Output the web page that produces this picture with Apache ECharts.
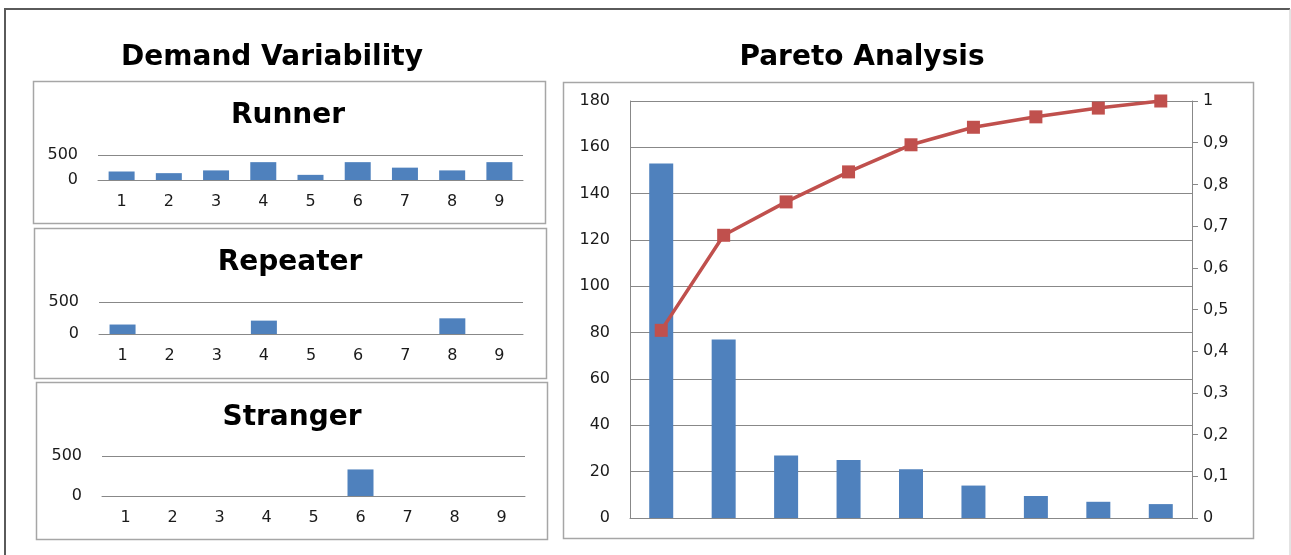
<!DOCTYPE html>
<html><head><meta charset="utf-8">
<script src="https://cdn.jsdelivr.net/npm/echarts@6/dist/echarts.min.js"></script>
<style>html,body{margin:0;padding:0;background:#fff;}#c{width:1291px;height:555px;}</style>
</head><body><div id="c"></div>
<script>
var categories = ['1','2','3','4','5','6','7','8','9'];
var runnerValues = [170, 137, 192, 357, 103, 357, 247, 192, 357];
var repeaterValues = [148, 0, 0, 209, 0, 0, 0, 245, 0];
var strangerValues = [0, 0, 0, 0, 0, 332, 0, 0, 0];
var paretoCounts = [153, 77, 27, 25, 21, 14, 9.5, 7, 6];
var paretoCumulative = [0.45, 0.678, 0.758, 0.83, 0.895, 0.937, 0.962, 0.983, 1.0];

var FONT = 'DejaVu Sans';
var BLUE = '#4F81BD', RED = '#C0504D', GRID = '#888888', BOX = '#a6a6a6', TXT = '#1a1a1a';

var chart = echarts.init(document.getElementById('c'), null, {renderer: 'canvas'});

function smallGrid(left, right, top, bottom) {
  return {left: left, width: right - left, top: top, height: bottom - top, containLabel: false};
}
var grids = [
  smallGrid(98, 523, 155, 180),
  smallGrid(99, 523, 302, 334),
  smallGrid(102, 525, 456, 496),
  {left: 630, width: 562, top: 101, height: 417}
];

function smallX(i) {
  return {type: 'category', gridIndex: i, data: categories,
    axisLine: {show: true, lineStyle: {color: GRID, width: 1}},
    axisTick: {show: false},
    axisLabel: {color: TXT, fontFamily: FONT, fontSize: 16, margin: 14}};
}
function smallY(i) {
  return {type: 'value', gridIndex: i, min: 0, max: 500, interval: 500,
    axisLine: {show: false}, axisTick: {show: false},
    splitLine: {show: true, lineStyle: {color: GRID, width: 1}},
    axisLabel: {color: TXT, fontFamily: FONT, fontSize: 16, margin: 20}};
}

var option = {
  animation: false,
  backgroundColor: '#fff',
  grid: grids,
  xAxis: [smallX(0), smallX(1), smallX(2),
    {type: 'category', gridIndex: 3, data: categories,
      axisLine: {show: true, lineStyle: {color: GRID}}, axisTick: {show: false},
      axisLabel: {show: false}}],
  yAxis: [smallY(0), smallY(1), smallY(2),
    {type: 'value', gridIndex: 3, min: 0, max: 180, interval: 20,
      axisLine: {show: true, lineStyle: {color: GRID}}, axisTick: {show: false},
      splitLine: {show: true, lineStyle: {color: GRID}},
      axisLabel: {color: TXT, fontFamily: FONT, fontSize: 16, margin: 20}},
    {type: 'value', gridIndex: 3, position: 'right', min: 0, max: 1, interval: 0.1,
      axisLine: {show: true, lineStyle: {color: GRID}},
      axisTick: {show: true, length: 6, lineStyle: {color: GRID}},
      splitLine: {show: false},
      axisLabel: {color: TXT, fontFamily: FONT, fontSize: 16, margin: 11,
        formatter: function (v) { return String(Math.round(v * 10) / 10).replace('.', ','); }}}],
  series: [
    {type: 'bar', xAxisIndex: 0, yAxisIndex: 0, data: runnerValues, barWidth: 26, itemStyle: {color: BLUE}},
    {type: 'bar', xAxisIndex: 1, yAxisIndex: 1, data: repeaterValues, barWidth: 26, itemStyle: {color: BLUE}},
    {type: 'bar', xAxisIndex: 2, yAxisIndex: 2, data: strangerValues, barWidth: 26, itemStyle: {color: BLUE}},
    {type: 'bar', xAxisIndex: 3, yAxisIndex: 3, data: paretoCounts, barWidth: 24, itemStyle: {color: BLUE}},
    {type: 'line', xAxisIndex: 3, yAxisIndex: 4, data: paretoCumulative, symbol: 'rect', symbolSize: 13,
      lineStyle: {color: RED, width: 3.5}, itemStyle: {color: RED}, z: 5}
  ],
  graphic: [
    {type: 'polyline', shape: {points: [[5, 556], [5, 9], [1290, 9]]}, style: {stroke: '#5a5a5a', lineWidth: 2, fill: null}},
    {type: 'line', shape: {x1: 1290, y1: 9, x2: 1290, y2: 556}, style: {stroke: '#c8c8c8', lineWidth: 1}},
    {type: 'rect', shape: {x: 33.5, y: 81.5, width: 512, height: 142}, style: {stroke: BOX, fill: null, lineWidth: 1.5}},
    {type: 'rect', shape: {x: 34.5, y: 228.5, width: 512, height: 150}, style: {stroke: BOX, fill: null, lineWidth: 1.5}},
    {type: 'rect', shape: {x: 36.5, y: 382.5, width: 511, height: 157}, style: {stroke: BOX, fill: null, lineWidth: 1.5}},
    {type: 'rect', shape: {x: 563.5, y: 82.5, width: 690, height: 456}, style: {stroke: BOX, fill: null, lineWidth: 1.5}},
    {type: 'text', x: 272, y: 58, style: {text: 'Demand Variability', font: 'bold 28px "DejaVu Sans"', fill: '#000', textAlign: 'center', textVerticalAlign: 'middle'}},
    {type: 'text', x: 862, y: 58, style: {text: 'Pareto Analysis', font: 'bold 28px "DejaVu Sans"', fill: '#000', textAlign: 'center', textVerticalAlign: 'middle'}},
    {type: 'text', x: 288, y: 116, style: {text: 'Runner', font: 'bold 28px "DejaVu Sans"', fill: '#000', textAlign: 'center', textVerticalAlign: 'middle'}},
    {type: 'text', x: 290, y: 263, style: {text: 'Repeater', font: 'bold 28px "DejaVu Sans"', fill: '#000', textAlign: 'center', textVerticalAlign: 'middle'}},
    {type: 'text', x: 292, y: 418, style: {text: 'Stranger', font: 'bold 28px "DejaVu Sans"', fill: '#000', textAlign: 'center', textVerticalAlign: 'middle'}}
  ]
};
chart.setOption(option);
</script></body></html>
